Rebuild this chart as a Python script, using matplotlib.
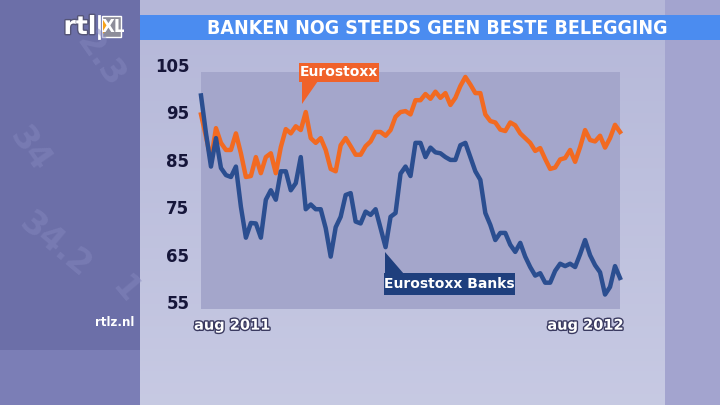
import numpy as np
import pandas as pd
import matplotlib
matplotlib.use("Agg")
import matplotlib.pyplot as plt
import matplotlib.patheffects as pe
from matplotlib.patches import Rectangle, Polygon

# gegevens (aug 2011 - aug 2012)
eurostoxx = [95, 90.3, 85.4, 92.1, 89, 87.5, 87.5, 91, 86.8, 81.8,
             82, 86, 82.6, 86, 86.8, 82.6, 88.1, 91.9, 91, 92.5,
             91.7, 95.5, 90, 89, 90, 87.5, 83.5, 83, 88.5, 90,
             88.3, 86.5, 86.5, 88.3, 89.3, 91.3, 91.3, 90.5, 91.7, 94.5,
             95.5, 95.7, 95, 98, 98, 99.3, 98.3, 99.8, 98.5, 99.5,
             97, 98.5, 101, 102.9, 101.3, 99.5, 99.5, 95, 93.6, 93.3,
             91.8, 91.5, 93.3, 92.7, 91, 90, 89, 87.3, 87.9, 85.6,
             83.5, 83.8, 85.5, 85.8, 87.5, 85, 88.1, 91.7, 89.6, 89.3,
             90.5, 88, 90, 92.8, 91.3]
banks = [99, 91, 84, 90, 83.7, 82.2, 81.8, 84, 75.5, 69,
         72.1, 72, 69, 77, 79, 77, 83, 83, 79, 80.5,
         86, 75, 76, 75, 75, 71, 65, 71.2, 73.4, 78,
         78.4, 72.4, 72, 74.5, 73.8, 75, 71, 67, 73.4, 74.2,
         82.5, 84, 82, 89, 89, 86, 88, 87, 86.8, 86,
         85.4, 85.4, 88.5, 89, 86, 83, 81.2, 74.2, 71.7, 68.5,
         70, 70, 67.5, 66, 67.9, 65, 62.8, 61, 61.5, 59.5,
         59.5, 62, 63.5, 63, 63.5, 62.8, 65.5, 68.5, 65.3, 63.2,
         61.7, 57, 58.6, 63, 60.5]
datums = pd.date_range("2011-08-08", "2012-08-10", periods=len(eurostoxx))
yticks = [55, 65, 75, 85, 95, 105]
x_labels = ["aug 2011", "aug 2012"]

W, H = 720, 405
fig = plt.figure(figsize=(7.2, 4.05), dpi=100)

# achtergrond (tv-beeld)
bg = fig.add_axes([0, 0, 1, 1], zorder=0)
bg.set_xlim(0, W)
bg.set_ylim(H, 0)
bg.axis("off")
yy = np.linspace(0, 1, 200)[:, None]
panel = np.ones((200, 1, 3)) * np.array([0.71, 0.72, 0.85]) + yy[..., None] * np.array([0.07, 0.07, 0.04])
bg.imshow(panel, extent=[0, W, H, 0], aspect="auto")
bg.add_patch(Rectangle((0, 0), 140, 350, color="#6c6fa8", lw=0))
bg.add_patch(Rectangle((0, 350), 140, 55, color="#7b7eb6", lw=0))
bg.add_patch(Rectangle((665, 0), 55, H, color="#a3a4cf", lw=0))

# decoratieve cijfers links
for txt, x, y, r in [("2.3", 100, 60, -55), ("34", 30, 150, -55), ("34.2", 55, 245, -40), ("1", 125, 290, -50)]:
    bg.text(x, y, txt, color="#8487bd", fontsize=24, rotation=r, fontweight="bold",
            ha="center", va="center", alpha=0.5)

# titelbalk
bg.add_patch(Rectangle((140, 15), 580, 25, color="#4b8cf0", lw=0))
bg.text(437, 28, "BANKEN NOG STEEDS GEEN BESTE BELEGGING", color="white",
        fontsize=14, fontweight="bold", fontstretch="condensed", ha="center", va="center",
        family=["DejaVu Sans"])

# logo
bg.text(80, 27, "rtl", color="white", fontsize=18, fontweight="bold", ha="center", va="center",
        path_effects=[pe.withStroke(linewidth=2, foreground="#555577")])
bg.plot([99, 99], [16, 38], color="white", lw=2)
bg.add_patch(Rectangle((102, 16), 19, 21, facecolor="#8d8d9a", edgecolor="white", lw=1))
bg.add_patch(Polygon([(103, 19), (109, 26.5), (103, 34)], color="#f7a21b", lw=0))
bg.text(113, 26.5, "XL", color="white", fontsize=12, fontweight="bold", ha="center", va="center")
bg.text(115, 322, "rtlz.nl", color="white", fontsize=8.5, fontweight="bold", ha="center", va="center")

# grafiek
ax = fig.add_axes([201 / W, 1 - 309 / H, 419 / W, 237 / H], zorder=1)
ax.set_facecolor("#a4a6cb")
ax.plot(datums, eurostoxx, color="#f26a21", lw=3.2, solid_joinstyle="round", clip_on=False)
ax.plot(datums, banks, color="#2b4e90", lw=3.2, solid_joinstyle="round", clip_on=False)
ax.set_xlim(datums[0], datums[-1])
ax.set_ylim(53.95, 103.95)
for s in ax.spines.values():
    s.set_visible(False)
ax.set_xticks([])
ax.set_yticks([])

for v in yticks:
    ax.text(-0.028, v, str(v), transform=ax.get_yaxis_transform(), ha="right", va="center",
            color="#16163a", fontsize=12, fontweight="bold", clip_on=False)

for xa, lab in zip([0.075, 0.918], x_labels):
    ax.text(xa, -0.068, lab, transform=ax.transAxes, ha="center", va="center",
            color="white", fontsize=10.5, fontweight="bold", clip_on=False,
            path_effects=[pe.withStroke(linewidth=2, foreground="#3a3a60")])

# labels met pijltje (bovenop de grafiek)
top = fig.add_axes([0, 0, 1, 1], zorder=2)
top.set_xlim(0, W)
top.set_ylim(H, 0)
top.axis("off")
top.patch.set_alpha(0)
top.add_patch(Rectangle((299, 63), 80, 19, color="#f0622a", lw=0))
top.add_patch(Polygon([(302, 81), (302, 104), (318, 81)], color="#f0622a", lw=0))
top.text(339, 72.5, "Eurostoxx", color="white", fontsize=10, fontweight="bold", ha="center", va="center")

top.add_patch(Rectangle((384, 273), 131, 22, color="#1f3f7d", lw=0))
top.add_patch(Polygon([(385, 252), (385, 274), (404, 274)], color="#1f3f7d", lw=0))
top.text(449.5, 284, "Eurostoxx Banks", color="white", fontsize=10, fontweight="bold", ha="center", va="center")

fig.savefig("out.png", dpi=100)
